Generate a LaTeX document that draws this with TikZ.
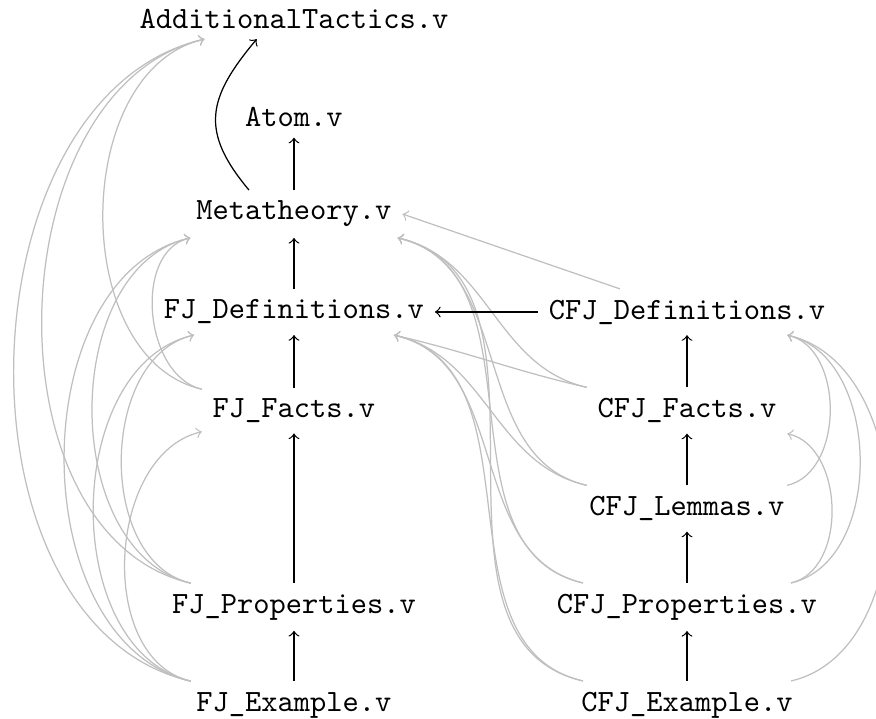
\documentclass[tikz,border=0pt]{standalone}
\usepackage{fontspec}
\begin{document}
\begin{tikzpicture}[x=0.32308pt, y=0.32308pt,
  fnode/.style={font=\ttfamily},
  dep/.style={->, draw=black},
  tdep/.style={->, draw=gray!50},
  lft/.style={out=167, in=193},
  crs/.style={out=167, in=-13},
  rgt/.style={out=13, in=-13}]
\useasboundingbox (0,0) rectangle (876,-719);
% nodes
\node[fnode] (add) at (294,-18.5) {AdditionalTactics.v};
\node[fnode] (atom) at (294,-117) {Atom.v};
\node[fnode] (meta) at (294,-214) {Metatheory.v};
\node[fnode] (fjdef) at (294,-312) {FJ\_Definitions.v};
\node[fnode] (fjfacts) at (294,-410.5) {FJ\_Facts.v};
\node[fnode] (fjprops) at (294,-607) {FJ\_Properties.v};
\node[fnode] (fjex) at (294,-705) {FJ\_Example.v};
\node[fnode] (cfjdef) at (687,-312) {CFJ\_Definitions.v};
\node[fnode] (cfjfacts) at (687,-410.5) {CFJ\_Facts.v};
\node[fnode] (cfjlem) at (687,-508.5) {CFJ\_Lemmas.v};
\node[fnode] (cfjprops) at (687,-607) {CFJ\_Properties.v};
\node[fnode] (cfjex) at (687,-705) {CFJ\_Example.v};
% transitive (gray) dependencies, left column
\draw[tdep] (fjfacts) to[lft] (add);
\draw[tdep] (fjfacts) to[lft] (meta);
\draw[tdep] (fjprops) to[lft] (add);
\draw[tdep] (fjprops) to[lft] (meta);
\draw[tdep] (fjprops) to[lft] (fjdef);
\draw[tdep] (fjex) to[lft] (add);
\draw[tdep] (fjex) to[lft] (meta);
\draw[tdep] (fjex) to[lft] (fjdef);
\draw[tdep] (fjex) to[lft] (fjfacts);
% right column to left column
\draw[tdep] (cfjdef) -- (meta.east);
\draw[tdep] (cfjfacts) to[crs] (meta);
\draw[tdep] (cfjfacts) to[crs] (fjdef);
\draw[tdep] (cfjlem) to[crs] (meta);
\draw[tdep] (cfjlem) to[crs] (fjdef);
\draw[tdep] (cfjprops) to[crs] (meta);
\draw[tdep] (cfjprops) to[crs] (fjdef);
\draw[tdep] (cfjex) to[crs] (meta);
\draw[tdep] (cfjex) to[crs] (fjdef);
% right column
\draw[tdep] (cfjlem) to[rgt] (cfjdef);
\draw[tdep] (cfjprops) to[rgt] (cfjdef);
\draw[tdep] (cfjprops) to[rgt] (cfjfacts);
\draw[tdep] (cfjex) to[rgt] (cfjdef);
% direct (black) dependencies
\draw[dep] (meta) -- (atom);
\draw[dep] (meta.152) to[out=130, in=230, looseness=1.3] (add.209);
\draw[dep] (fjdef) -- (meta);
\draw[dep] (fjfacts) -- (fjdef);
\draw[dep] (fjprops) -- (fjfacts);
\draw[dep] (fjex) -- (fjprops);
\draw[dep] (cfjdef) -- (fjdef);
\draw[dep] (cfjfacts) -- (cfjdef);
\draw[dep] (cfjlem) -- (cfjfacts);
\draw[dep] (cfjprops) -- (cfjlem);
\draw[dep] (cfjex) -- (cfjprops);
\end{tikzpicture}
\end{document}
